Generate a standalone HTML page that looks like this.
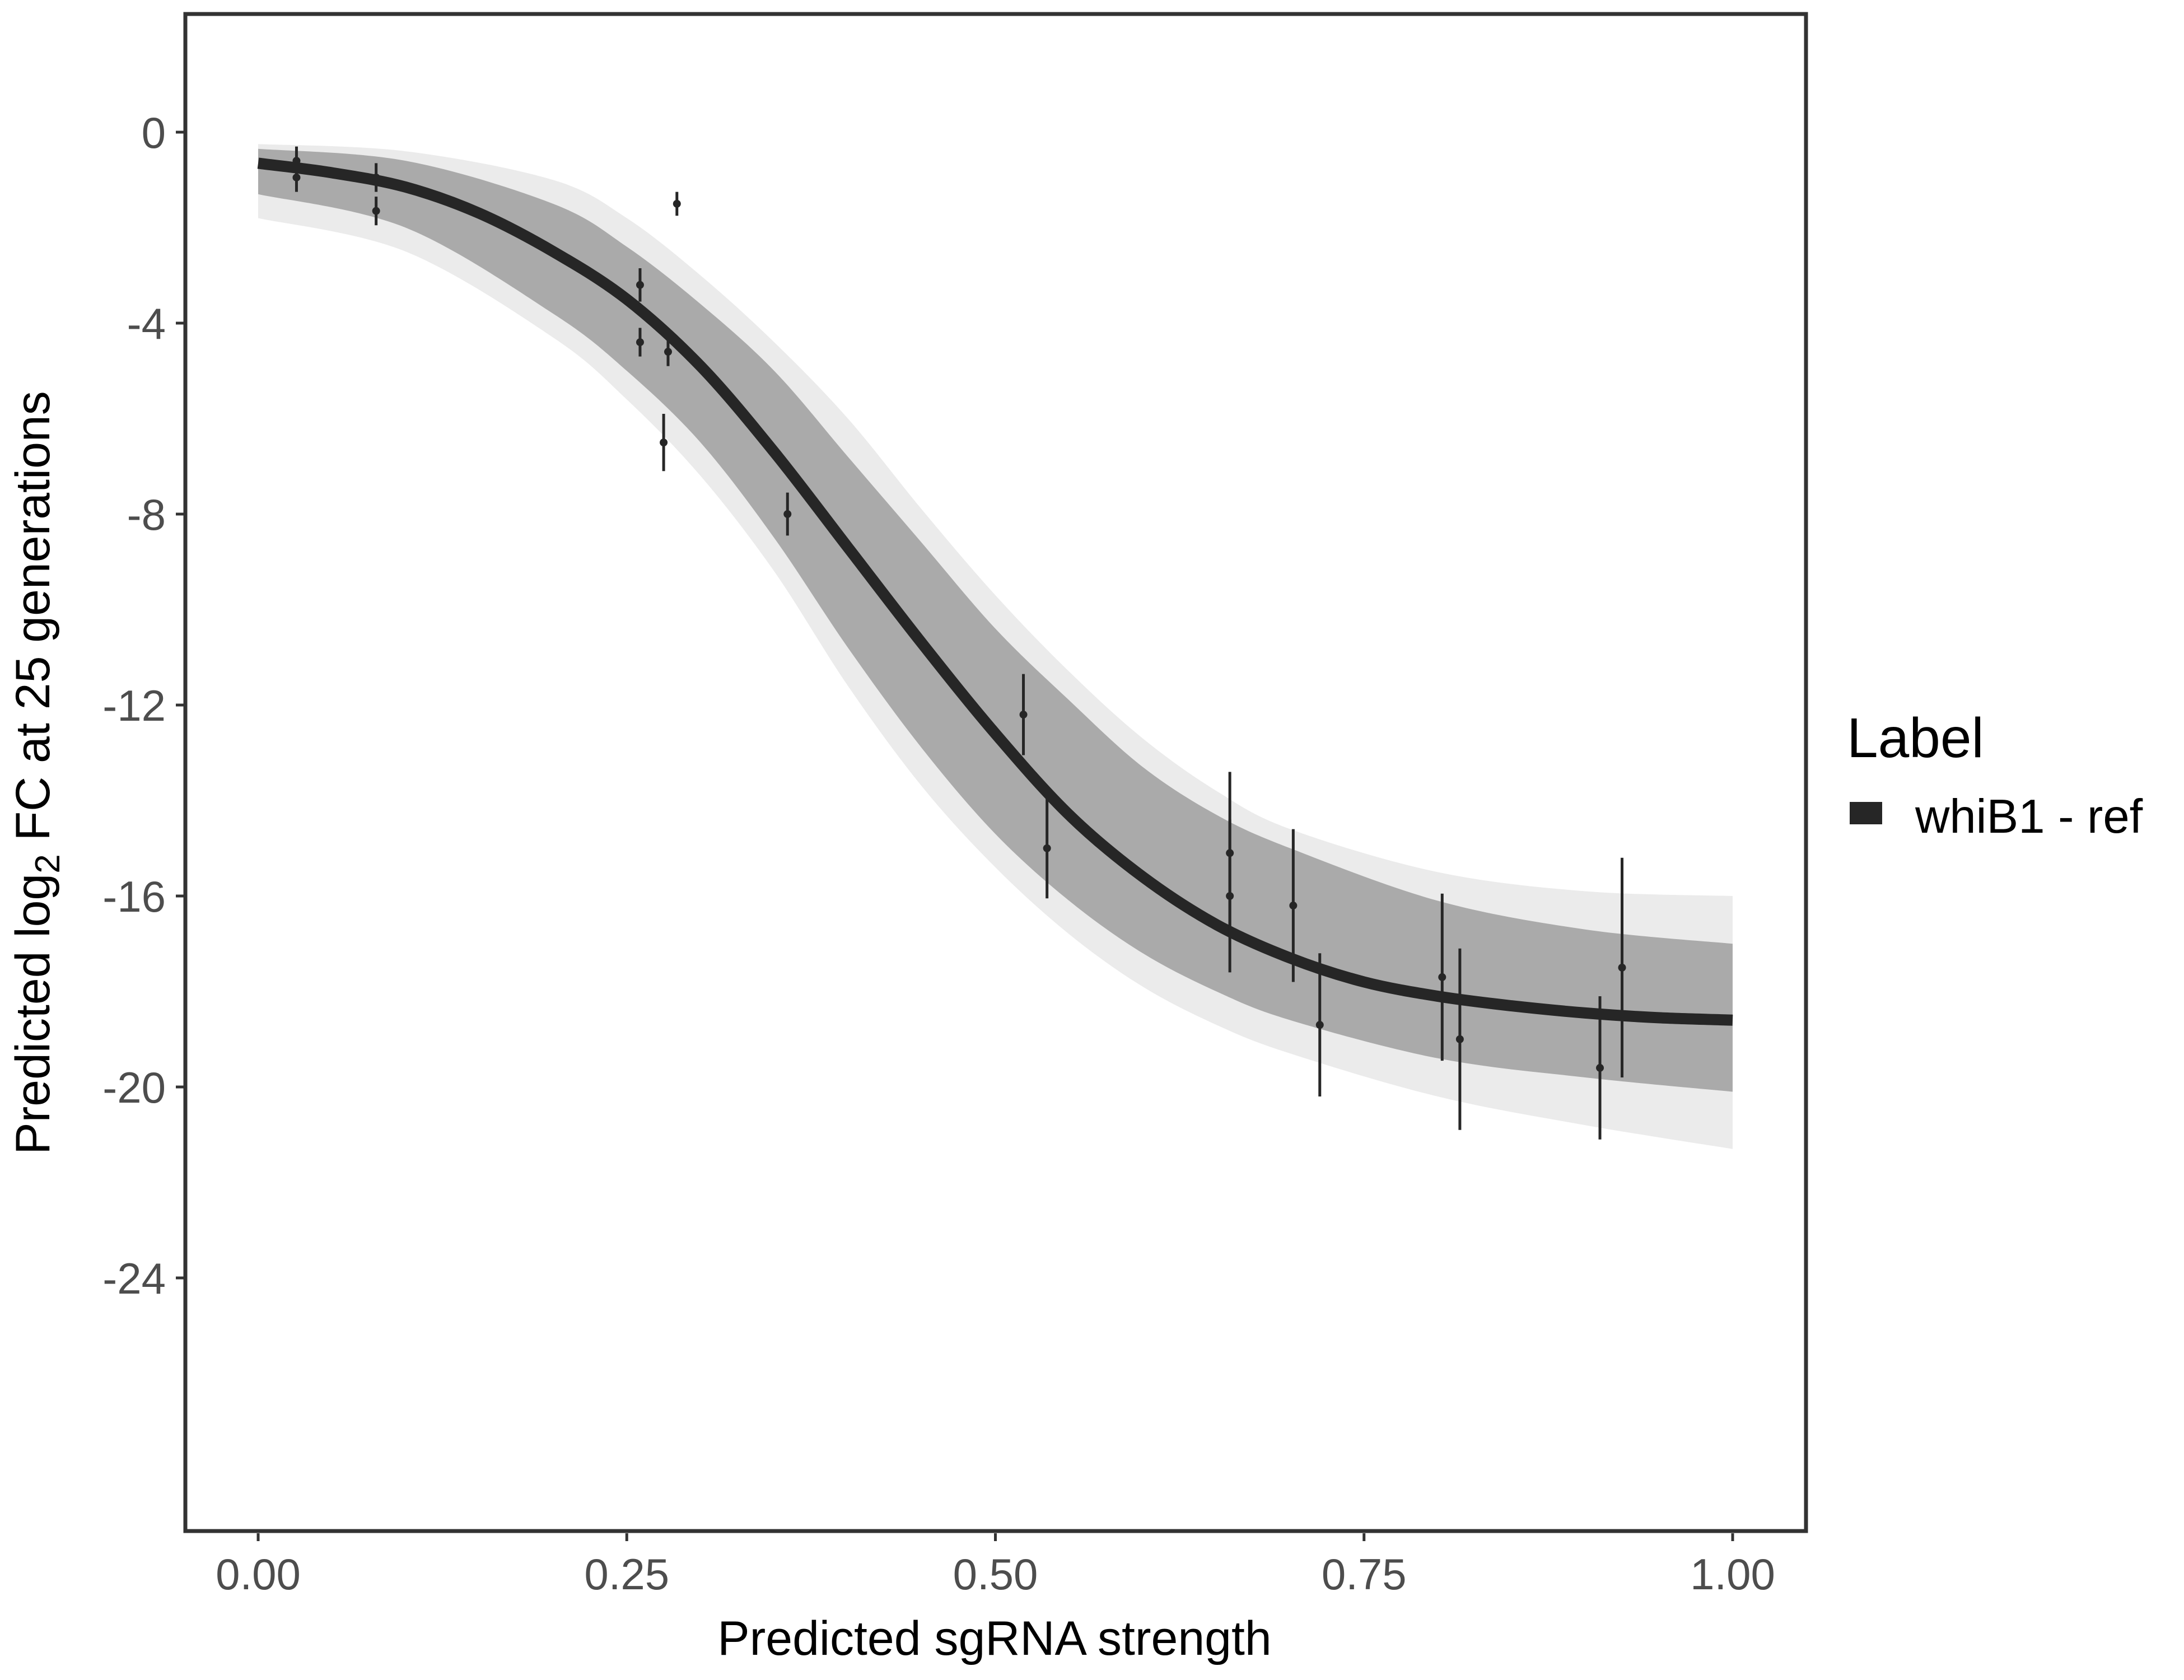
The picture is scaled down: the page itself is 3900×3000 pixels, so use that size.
<!DOCTYPE html>
<html><head><meta charset="utf-8"><style>
html,body{margin:0;padding:0;background:#fff;}
svg{display:block;font-family:"Liberation Sans",sans-serif;}
</style></head><body>
<svg id="chart" width="3900" height="3000" viewBox="0 0 3900 3000" xmlns="http://www.w3.org/2000/svg">
<rect x="0" y="0" width="3900" height="3000" fill="#fff"/>
<g id="plot"></g>
<rect x="331" y="25" width="2894" height="2709" fill="none" stroke="#333" stroke-width="7"/>
<g id="axes"></g>
<text x="1776" y="2955" font-size="86" text-anchor="middle" fill="#000">Predicted sgRNA strength</text>
<text transform="translate(88,1380) rotate(-90)" font-size="86" text-anchor="middle" fill="#000">Predicted  log<tspan font-size="62" dy="18">2</tspan><tspan dy="-18"> FC at 25 generations</tspan></text>
<g>
<text x="3298" y="1352" font-size="100" fill="#000">Label</text>
<rect x="3303" y="1432" width="58" height="40" fill="#262626"/>
<text x="3420" y="1487" font-size="85" fill="#000">whiB1 - ref</text>
</g>
</svg>
<script>
const xTicks=[0,0.25,0.5,0.75,1];
const xTickLabels=["0.00","0.25","0.50","0.75","1.00"];
const yTicks=[0,-4,-8,-12,-16,-20,-24];
const yTickLabels=["0","-4","-8","-12","-16","-20","-24"];
const curveX=[0,0.05,0.1,0.15,0.2,0.25,0.3,0.35,0.4,0.45,0.5,0.55,0.6,0.65,0.7,0.75,0.8,0.85,0.9,0.95,1];
const curveY=[-0.65,-0.85,-1.15,-1.7,-2.5,-3.5,-4.9,-6.7,-8.7,-10.7,-12.6,-14.3,-15.6,-16.6,-17.3,-17.8,-18.1,-18.3,-18.45,-18.55,-18.6];
const bandX=[0,0.1,0.2,0.25,0.3,0.35,0.4,0.45,0.5,0.55,0.6,0.65,0.7,0.8,0.9,1];
const outerUpper=[-0.25,-0.4,-1.0,-1.8,-3.0,-4.4,-6.0,-7.9,-9.7,-11.3,-12.7,-13.8,-14.6,-15.5,-15.9,-16.0];
const denseUpper=[-0.35,-0.6,-1.5,-2.4,-3.6,-5.0,-6.8,-8.6,-10.4,-11.9,-13.3,-14.3,-15.0,-16.1,-16.7,-17.0];
const denseLower=[-1.3,-2.0,-3.8,-5.0,-6.5,-8.5,-10.8,-12.9,-14.7,-16.1,-17.2,-18.0,-18.6,-19.4,-19.8,-20.1];
const outerLower=[-1.8,-2.5,-4.3,-5.6,-7.2,-9.2,-11.6,-13.7,-15.4,-16.8,-17.9,-18.7,-19.3,-20.2,-20.8,-21.3];
const ptX=[0.026,0.026,0.08,0.08,0.259,0.259,0.278,0.275,0.284,0.359,0.519,0.535,0.659,0.659,0.702,0.72,0.803,0.815,0.91,0.925];
const ptY=[-0.6,-0.95,-0.95,-1.65,-3.2,-4.4,-4.6,-6.5,-1.5,-8.0,-12.2,-15.0,-15.1,-16.0,-16.2,-18.7,-17.7,-19.0,-19.6,-17.5];
const ptErr=[0.3,0.3,0.3,0.3,0.35,0.3,0.3,0.6,0.25,0.45,0.85,1.05,1.7,1.6,1.6,1.5,1.75,1.9,1.5,2.3];

const NS="http://www.w3.org/2000/svg";
function sx(v){return 461+v*2633;}
function sy(v){return 236-v*85.25;}
const plot=document.getElementById('plot');
const axes=document.getElementById('axes');
function mk(tag,attrs,parent){const e=document.createElementNS(NS,tag);for(const k in attrs)e.setAttribute(k,attrs[k]);parent.appendChild(e);return e;}
function smooth(pts,start){
  let d=start?('M'+pts[0][0].toFixed(1)+','+pts[0][1].toFixed(1)):('L'+pts[0][0].toFixed(1)+','+pts[0][1].toFixed(1));
  for(let i=0;i<pts.length-1;i++){
    const p0=pts[Math.max(0,i-1)],p1=pts[i],p2=pts[i+1],p3=pts[Math.min(pts.length-1,i+2)];
    const c1=[p1[0]+(p2[0]-p0[0])/6,p1[1]+(p2[1]-p0[1])/6];
    const c2=[p2[0]-(p3[0]-p1[0])/6,p2[1]-(p3[1]-p1[1])/6];
    d+='C'+c1[0].toFixed(1)+','+c1[1].toFixed(1)+' '+c2[0].toFixed(1)+','+c2[1].toFixed(1)+' '+p2[0].toFixed(1)+','+p2[1].toFixed(1);
  }
  return d;
}
function bandPath(up,lo){
  const a=bandX.map((x,i)=>[sx(x),sy(up[i])]);
  const b=bandX.map((x,i)=>[sx(x),sy(lo[i])]).reverse();
  return smooth(a,true)+smooth(b,false)+'Z';
}
let b1=mk('path',{d:bandPath(outerUpper,outerLower),fill:'#ebebeb'},plot);


let b2=mk('path',{d:bandPath(denseUpper,denseLower),fill:'#aaaaaa'},plot);


const cpts=curveX.map((x,i)=>[sx(x),sy(curveY[i])]);
let cl=mk('path',{d:smooth(cpts,true),fill:'none',stroke:'#262626','stroke-width':20,'stroke-linejoin':'round'},plot);


ptX.forEach((x,i)=>{
  let l=mk('line',{x1:sx(x),x2:sx(x),y1:sy(ptY[i]+ptErr[i]),y2:sy(ptY[i]-ptErr[i]),stroke:'#262626','stroke-width':5},plot);
  
  
  let c=mk('circle',{cx:sx(x),cy:sy(ptY[i]),r:7,fill:'#262626'},plot);
  
  
});
xTicks.forEach((v,i)=>{
  let t=mk('line',{x1:sx(v),x2:sx(v),y1:2738,y2:2752,stroke:'#333','stroke-width':5},axes);
  
  
  let lb=mk('text',{x:sx(v),y:2838,'font-size':78,'text-anchor':'middle',fill:'#4d4d4d'},axes);
  lb.textContent=xTickLabels[i];
  
  
});
yTicks.forEach((v,i)=>{
  let t=mk('line',{x1:314,x2:328,y1:sy(v),y2:sy(v),stroke:'#333','stroke-width':5},axes);
  
  
  let lb=mk('text',{x:296,y:sy(v)+28,'font-size':78,'text-anchor':'end',fill:'#4d4d4d'},axes);
  lb.textContent=yTickLabels[i];
  
  
});
</script>
</body></html>
